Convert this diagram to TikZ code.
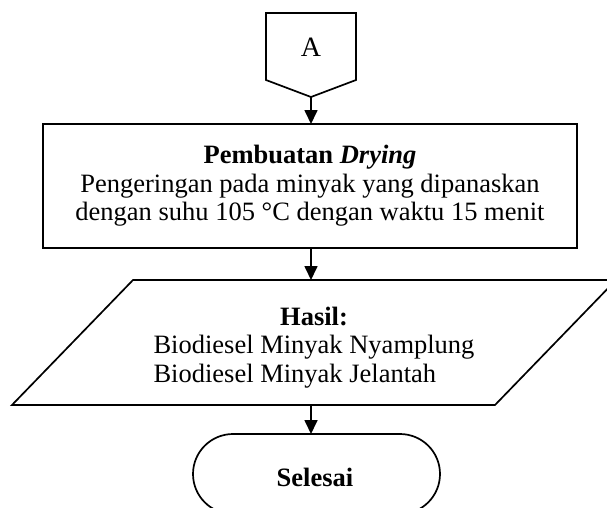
\documentclass[tikz,border=0pt]{standalone}
\usepackage{fontspec}
\setmainfont{Liberation Serif}
\usetikzlibrary{arrows.meta}
\begin{document}
\begin{tikzpicture}[x=1pt,y=-1pt,
  shapeline/.style={line width=1.7pt,line join=miter},
  flow/.style={line width=1.7pt,-{Triangle[length=14pt,width=13pt]}},
  txt/.style={align=center,font=\fontsize{26.5}{28.5}\selectfont,inner sep=0pt}]
\useasboundingbox (0,0) rectangle (607,507);
\clip (0,0) rectangle (607,507);
% off-page connector
\draw[shapeline] (266,13) -- (356,13) -- (356,80) -- (311,97) -- (266,80) -- cycle;
\coordinate (offb) at (311,97);
\node[txt,font=\fontsize{28}{30}\selectfont] (A) at (311,47) {A};
% process box
\draw[shapeline] (43,124) rectangle (577,248);
\coordinate (boxt) at (311,124);
\coordinate (boxb) at (311,248);
\node[txt] (proc) at (310,186) {\textbf{Pembuatan \textit{Drying}}\\Pengeringan pada minyak yang dipanaskan\\dengan suhu 105 °C dengan waktu 15 menit};
% parallelogram
\draw[shapeline] (133,280) -- (616,280) -- (495,405) -- (12,405) -- cycle;
\coordinate (part) at (311,280);
\coordinate (parb) at (311,405);
\node[txt] (hasil) at (314,348) {\renewcommand{\arraystretch}{1}\setlength{\tabcolsep}{0pt}%
  \begin{tabular}{l}\multicolumn{1}{c}{\textbf{Hasil:}}\\Biodiesel Minyak Nyamplung\\Biodiesel Minyak Jelantah\end{tabular}};
% terminator
\draw[shapeline,rounded corners=40pt] (193,434) rectangle (440,514);
\coordinate (termt) at (311,434);
\node[txt] (end) at (315,477) {\textbf{Selesai}};
% connectors
\draw[flow] (offb) -- (boxt);
\draw[flow] (boxb) -- (part);
\draw[flow] (parb) -- (termt);
\end{tikzpicture}
\end{document}
